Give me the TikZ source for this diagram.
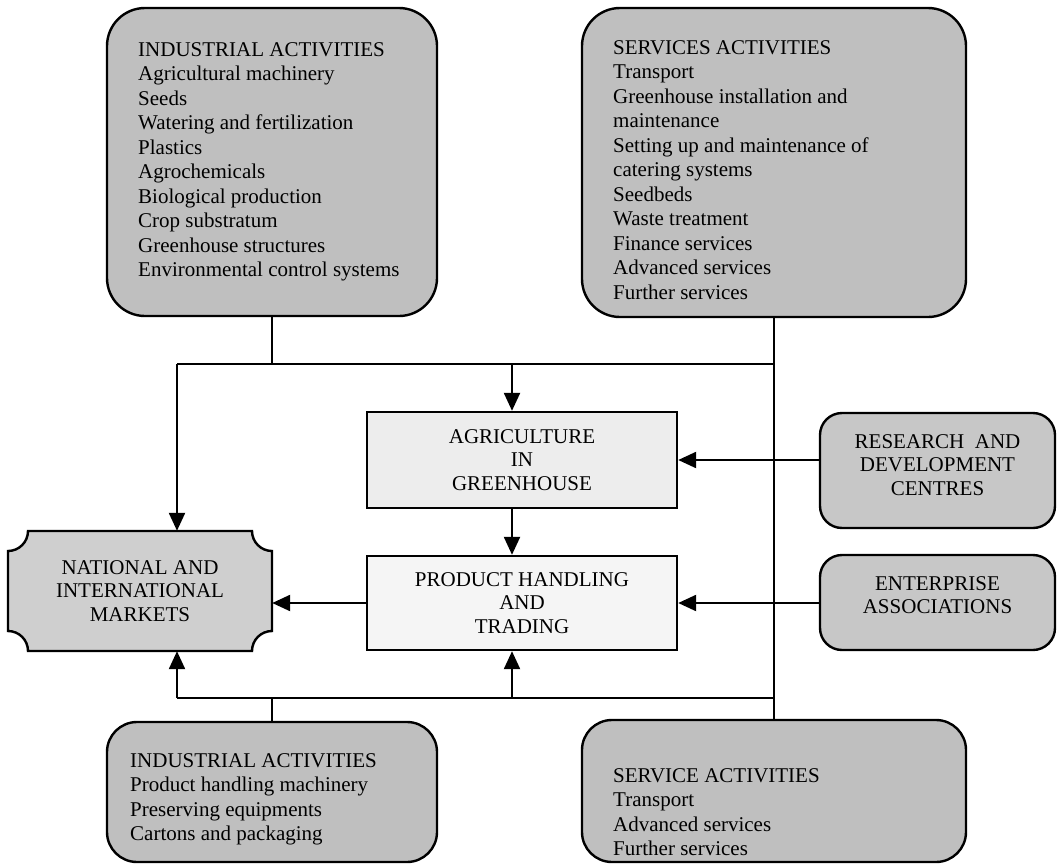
\documentclass[tikz,border=0pt]{standalone}
\usepackage{fontspec}
\setmainfont{Liberation Serif}
\usetikzlibrary{arrows.meta}
\begin{document}
\begin{tikzpicture}[x=1pt,y=-1pt,
  bigbox/.style={draw=black, line width=2.4pt, fill=black!25, rounded corners=38pt, inner sep=0pt},
  smallbox/.style={draw=black, line width=2.4pt, fill=black!22, rounded corners=22pt, inner sep=0pt},
  flatbox/.style={draw=black, line width=2.4pt, inner sep=0pt, align=center, text=black, font=\fontsize{21}{23.5}\selectfont},
  listtext/.style={anchor=north west, inner sep=0pt, align=left, text=black, font=\fontsize{21}{24.5}\selectfont},
  ctext/.style={inner sep=0pt, align=center, text=black, font=\fontsize{21}{23.5}\selectfont},
  conn/.style={draw=black, line width=2.3pt},
  arr/.style={conn, -{Triangle[length=18pt,width=16pt]}}]
\useasboundingbox (0,0) rectangle (1061,865);
\fill[white] (0,0) rectangle (1061,865);

% big boxes
\node[bigbox, minimum width=330pt, minimum height=308pt] (tl) at (272,162) {};
\node[bigbox, minimum width=384pt, minimum height=309pt] (tr) at (774,162.5) {};
\node[bigbox, rounded corners=30pt, minimum width=330pt, minimum height=140pt] (bl) at (272,792) {};
\node[bigbox, rounded corners=30pt, minimum width=384pt, minimum height=142pt] (br) at (774,791) {};

\node[listtext] (tlt) at (138,42) {INDUSTRIAL ACTIVITIES\\Agricultural machinery\\Seeds\\Watering and fertilization\\Plastics\\Agrochemicals\\Biological production\\Crop substratum\\Greenhouse structures\\Environmental control systems};
\node[listtext] (trt) at (613,40) {SERVICES ACTIVITIES\\Transport\\Greenhouse installation and\\maintenance\\Setting up and maintenance of\\catering systems\\Seedbeds\\Waste treatment\\Finance services\\Advanced services\\Further services};
\node[listtext] (blt) at (130,753) {INDUSTRIAL ACTIVITIES\\Product handling machinery\\Preserving equipments\\Cartons and packaging};
\node[listtext] (brt) at (613,768) {SERVICE ACTIVITIES\\Transport\\Advanced services\\Further services};

% side boxes
\node[smallbox, minimum width=235pt, minimum height=115pt] (rd) at (937.5,470.5) {};
\node[ctext] (rdt) at (937.5,465) {RESEARCH\enspace AND\\DEVELOPMENT\\CENTRES};
\node[smallbox, minimum width=235pt, minimum height=95pt] (ent) at (937.5,602.5) {};
\node[ctext] (entt) at (937.5,595) {ENTERPRISE\\ASSOCIATIONS};

% centre boxes
\node[flatbox, fill=black!7, minimum width=310pt, minimum height=96pt] (agr) at (522,460) {AGRICULTURE\\IN\\GREENHOUSE};
\node[flatbox, fill=black!4, minimum width=310pt, minimum height=94pt] (prod) at (522,603) {PRODUCT HANDLING\\AND\\TRADING};

% markets plaque
\filldraw[draw=black, line width=2.4pt, fill=black!19]
  (28,531) -- (252,531) arc[start angle=180, end angle=90, radius=20]
  -- (272,631) arc[start angle=270, end angle=180, radius=20]
  -- (28,651) arc[start angle=0, end angle=-90, radius=20]
  -- (8,551) arc[start angle=90, end angle=0, radius=20] -- cycle;
\node[ctext, minimum width=264pt, minimum height=120pt] (nat) at (140,591) {NATIONAL AND\\INTERNATIONAL\\MARKETS};

% connectors
\coordinate (jTL) at (177,364);
\coordinate (jBL) at (177,698);
\coordinate (xA) at (512,0);
\draw[conn] (tl.south) -- (tl.south |- jTL);
\draw[conn] (jTL) -- (tr.south |- jTL);
\draw[conn] (tr.south) -- (br.north);
\draw[arr] (jTL) -- (jTL |- nat.north);
\draw[arr] (xA |- jTL) -- (xA |- agr.north);
\draw[arr] (xA |- agr.south) -- (xA |- prod.north);
\draw[arr] (rd.west |- agr.east) -- (agr.east);
\draw[arr] (ent.west |- prod.east) -- (prod.east);
\draw[arr] (prod.west) -- (prod.west -| nat.east);
\draw[conn] (bl.north) -- (bl.north |- jBL);
\draw[conn] (jBL) -- (br.north |- jBL);
\draw[arr] (jBL) -- (jBL |- nat.south);
\draw[arr] (xA |- jBL) -- (xA |- prod.south);
\end{tikzpicture}
\end{document}
